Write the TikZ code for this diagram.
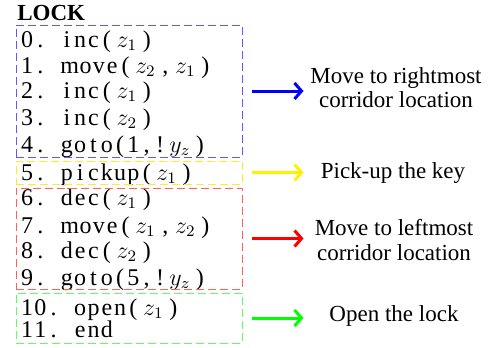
\documentclass[tikz,border=0pt]{standalone}
\usepackage{fontspec}
\setmainfont{Liberation Serif}
\usetikzlibrary{calc,arrows.meta}

\definecolor{boxblue}{RGB}{90,90,255}
\definecolor{boxyellow}{RGB}{255,235,40}
\definecolor{boxred}{RGB}{255,95,95}
\definecolor{boxgreen}{RGB}{95,255,95}

% fixed-column code line
\newlength\colw \setlength\colw{6.65pt}
\def\cl#1{\ifx\relax#1\else\sbox0{#1}\ifdim\wd0>\colw\box0\else\makebox[\colw]{#1}\fi\expandafter\cl\fi}
\newcommand\mth[1]{\makebox[2\colw]{$#1$}}

\tikzset{
  >={Straight Barb[length=3.5pt,width=8pt]},
  code/.style={anchor=base west,inner sep=0pt,font=\fontsize{12}{14}\selectfont},
  bx/.style={draw=#1,line width=0.5pt,dash pattern=on 4pt off 2pt,minimum width=113pt,inner sep=0pt},
  note/.style={align=center,inner sep=0pt,font=\fontsize{11.5}{12.25}\selectfont},
  arr/.style={->,line width=1.5pt,draw=#1}
}

\begin{document}
\begin{tikzpicture}[x=0.5pt,y=-0.5pt]
  \useasboundingbox (0,0) rectangle (498,348);
  \node[anchor=base west,inner sep=0pt,font=\fontsize{11.5}{13}\selectfont\bfseries] (title) at (17,20) {LOCK};

  % code lines
  \node[code] (l0) at (20,47) {\cl 0.~inc({\mth{z_1}})\relax};
  \node[code] (l1) at (20,73) {\cl 1.~move({\mth{z_2}},{\mth{z_1}})\relax};
  \node[code] (l2) at (20,98) {\cl 2.~inc({\mth{z_1}})\relax};
  \node[code] (l3) at (20,125) {\cl 3.~inc({\mth{z_2}})\relax};
  \node[code] (l4) at (20,152) {\cl 4.~goto(1,!{\mth{y_z}})\relax};
  \node[code] (l5) at (20,180) {\cl 5.~pickup({\mth{z_1}})\relax};
  \node[code] (l6) at (20,205) {\cl 6.~dec({\mth{z_1}})\relax};
  \node[code] (l7) at (20,233) {\cl 7.~move({\mth{z_1}},{\mth{z_2}})\relax};
  \node[code] (l8) at (20,258) {\cl 8.~dec({\mth{z_2}})\relax};
  \node[code] (l9) at (20,285) {\cl 9.~goto(5,!{\mth{y_z}})\relax};
  \node[code] (l10) at (20,315) {\cl 10.~open({\mth{z_1}})\relax};
  \node[code] (l11) at (20,337) {\cl 11.~end\relax};

  % blocks
  \node[bx=boxblue,minimum height=66pt] (bbox) at (129,91) {};
  \node[bx=boxyellow,minimum height=11.5pt] (ybox) at (129,172.5) {};
  \node[bx=boxred,minimum height=50.5pt] (rbox) at (129,238.5) {};
  \node[bx=boxgreen,minimum height=25pt] (gbox) at (129,318) {};

  % notes
  \node[note] (bnote) at (396,87.5) {Move to rightmost\\corridor location};
  \node[note] (ynote) at (393,173) {Pick-up the key};
  \node[note] (rnote) at (394,240) {Move to leftmost\\corridor location};
  \node[note] (gnote) at (394,315.5) {Open the lock};

  \draw[arr=blue] ([xshift=4.5pt]bbox.east) -- ([xshift=30.5pt]bbox.east);
  \draw[arr=yellow] ([xshift=4.5pt]ybox.east) -- ([xshift=30.5pt]ybox.east);
  \draw[arr=red] ([xshift=4.5pt]rbox.east) -- ([xshift=30.5pt]rbox.east);
  \draw[arr=green] ([xshift=4.5pt]gbox.east) -- ([xshift=30.5pt]gbox.east);
\end{tikzpicture}
\end{document}
